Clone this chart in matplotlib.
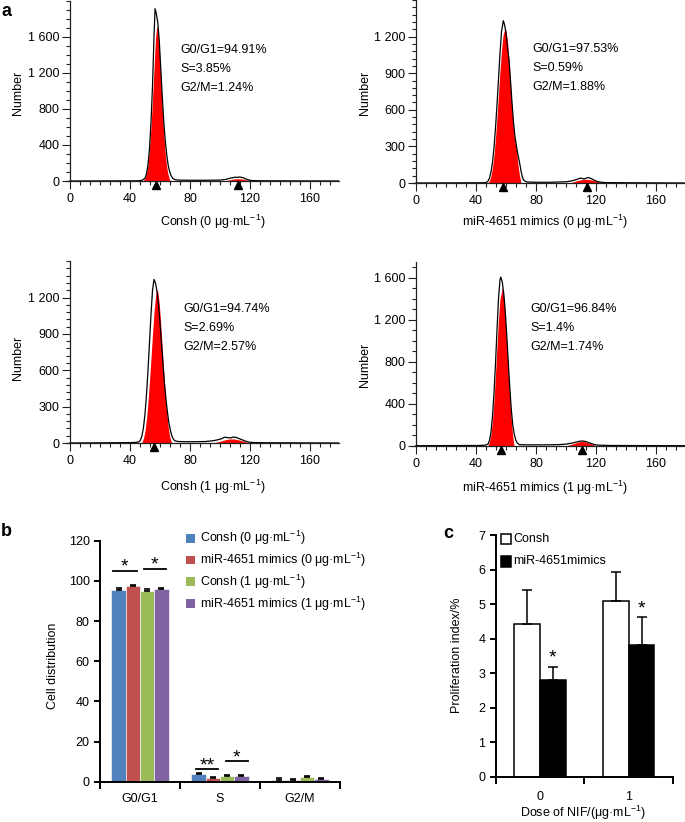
import matplotlib
matplotlib.use('Agg')
import matplotlib.pyplot as plt
from matplotlib.ticker import MultipleLocator, FixedLocator, NullFormatter
from matplotlib.patches import Rectangle
from matplotlib.transforms import offset_copy

plt.rcParams['font.family'] = ['Liberation Sans', 'DejaVu Sans']
plt.rcParams['mathtext.fontset'] = 'custom'
plt.rcParams['mathtext.rm'] = 'Liberation Sans'
plt.rcParams['mathtext.it'] = 'Liberation Sans:italic'
plt.rcParams['mathtext.bf'] = 'Liberation Sans:bold'
plt.rcParams['font.size'] = 9

# ---------------- DATA ----------------
UNIT = ' μg·mL$^{-1}$'
# Panel a : flow-cytometry histograms (channel, count)
a1_black_x = [0, 45, 48, 50, 51, 52, 53, 54, 55, 56, 56.7, 57.5, 58.5, 59.5, 60.5, 61.5, 62.5, 63.5, 64.5, 65.5, 66.5, 67.5, 68.5, 70, 72, 80, 90, 100, 104, 107, 109, 110, 112, 113, 115, 117, 119, 121, 125, 130, 179]
a1_black_y = [0, 2, 8, 30, 80, 180, 360, 650, 1050, 1600, 1910, 1860, 1760, 1560, 1250, 940, 660, 450, 290, 170, 100, 55, 30, 15, 10, 8, 8, 10, 18, 32, 38, 42, 40, 45, 38, 25, 12, 5, 3, 2, 0]
a1_g1_x = [48.5, 50, 51, 52, 53, 54, 55, 56, 57, 57.8, 58.5, 59.5, 60.5, 61.5, 62.5, 63.5, 64.5, 65.5, 66.7]
a1_g1_y = [0, 30, 80, 180, 350, 600, 900, 1250, 1580, 1714, 1680, 1460, 1150, 820, 520, 300, 150, 60, 0]
a1_g2_x = [102, 105, 108, 110, 112, 114, 116, 119, 122]
a1_g2_y = [0, 8, 18, 24, 26, 24, 18, 8, 0]

a2_black_x = [0, 45, 47, 48, 49, 50, 51, 52, 53, 54, 55, 56, 57, 58.2, 59, 60, 61, 62, 63, 64, 65, 66, 67, 68, 69, 70, 71, 72, 74, 80, 90, 100, 104, 107, 109, 110, 112, 114, 115, 117, 119, 121, 124, 128, 140, 179]
a2_black_y = [0, 2, 5, 15, 40, 90, 170, 290, 450, 640, 850, 1060, 1240, 1330, 1300, 1230, 1110, 1010, 840, 660, 500, 380, 300, 230, 170, 100, 45, 20, 8, 6, 6, 10, 18, 28, 38, 40, 32, 42, 45, 35, 22, 12, 5, 3, 2, 0]
a2_g1_x = [48, 49, 50, 51, 52, 53, 54, 55, 56, 57, 58, 59.3, 60, 61, 62, 63, 64, 65, 66, 67, 68, 69, 70]
a2_g1_y = [0, 20, 60, 130, 230, 370, 540, 730, 920, 1090, 1210, 1268, 1250, 1160, 1000, 800, 600, 430, 330, 270, 150, 60, 0]
a2_g2_x = [102, 105, 108, 111, 114, 117, 120, 123, 126]
a2_g2_y = [0, 10, 22, 28, 30, 25, 15, 6, 0]

a3_black_x = [0, 40, 44, 46, 47, 48, 49, 50, 51, 52, 53, 54, 55, 56, 57, 58, 59, 60, 61, 62, 63, 64, 65, 66, 67, 68, 69, 70, 72, 80, 90, 95, 98, 101, 103, 105, 107, 109, 111, 113, 115, 117, 119, 122, 130, 179]
a3_black_y = [0, 3, 5, 10, 25, 60, 130, 240, 400, 600, 830, 1060, 1260, 1350, 1320, 1250, 1140, 990, 820, 650, 490, 360, 250, 160, 100, 55, 30, 18, 12, 10, 12, 18, 25, 35, 48, 44, 42, 50, 45, 35, 25, 15, 8, 4, 2, 0]
a3_g1_x = [47.8, 49, 50, 51, 52, 53, 54, 55, 56, 57, 57.8, 58.5, 59.5, 60.5, 61.5, 62.5, 63.5, 64.5, 65.5, 66.5, 67.8]
a3_g1_y = [0, 40, 100, 200, 340, 510, 700, 900, 1080, 1210, 1266, 1250, 1150, 980, 780, 580, 400, 250, 130, 50, 0]
a3_g2_x = [95, 98, 101, 104, 107, 110, 113, 116, 118, 120]
a3_g2_y = [0, 8, 18, 28, 34, 32, 24, 13, 6, 0]

a4_black_x = [0, 42, 46, 48, 49, 50, 51, 52, 53, 54, 55, 56, 56.5, 57.5, 58.5, 59.5, 60.5, 61.5, 62.5, 63.5, 64.5, 65.5, 66.5, 67.5, 69, 75, 85, 95, 100, 104, 107, 109, 111, 113, 115, 117, 119, 122, 130, 179]
a4_black_y = [0, 2, 5, 15, 50, 130, 280, 500, 780, 1100, 1400, 1580, 1606, 1560, 1450, 1280, 1050, 800, 560, 350, 200, 110, 55, 25, 10, 8, 8, 10, 15, 25, 35, 42, 45, 40, 30, 20, 10, 5, 2, 0]
a4_g1_x = [48, 49, 50, 51, 52, 53, 54, 55, 56, 57.5, 58.5, 59.5, 60.5, 61.5, 62.5, 63.5, 64.5, 65.3]
a4_g1_y = [0, 40, 110, 240, 430, 680, 950, 1210, 1400, 1499, 1420, 1220, 960, 700, 460, 250, 90, 0]
a4_g2_x = [100, 103, 106, 109, 111, 113, 116, 119, 120]
a4_g2_y = [0, 10, 25, 38, 40, 36, 20, 5, 0]

a_markers = [[57, 112], [58, 114], [56], [56.5, 110.5]]
a_stats = [['G0/G1=94.91%', 'S=3.85%', 'G2/M=1.24%'],
           ['G0/G1=97.53%', 'S=0.59%', 'G2/M=1.88%'],
           ['G0/G1=94.74%', 'S=2.69%', 'G2/M=2.57%'],
           ['G0/G1=96.84%', 'S=1.4%', 'G2/M=1.74%']]
a_xlabels = ['Consh (0' + UNIT + ')', 'miR-4651 mimics (0' + UNIT + ')',
             'Consh (1' + UNIT + ')', 'miR-4651 mimics (1' + UNIT + ')']

# Panel b : cell distribution
b_categories = ['G0/G1', 'S', 'G2/M']
b_series = ['Consh (0' + UNIT + ')', 'miR-4651 mimics (0' + UNIT + ')',
            'Consh (1' + UNIT + ')', 'miR-4651 mimics (1' + UNIT + ')']
b_consh0 = [95.3, 3.85, 0.9]
b_mimic0 = [97.3, 1.8, 0.9]
b_consh1 = [95.0, 2.7, 2.2]
b_mimic1 = [95.8, 2.7, 1.5]
b_consh0_err = [1.0, 0.4, 0.8]
b_mimic0_err = [0.5, 0.3, 0.4]
b_consh1_err = [0.8, 0.6, 0.4]
b_mimic1_err = [0.8, 0.5, 0.5]
b_colors = ['#4F81BD', '#C0504D', '#9BBB59', '#8064A2']
b_sig_x0 = [-0.34, 0.05, 0.70, 1.07]
b_sig_x1 = [-0.04, 0.32, 0.97, 1.35]
b_sig_y = [105.0, 105.9, 6.2, 10.2]
b_sig_txt = ['*', '*', '**', '*']

# Panel c : proliferation index
c_doses = ['0', '1']
c_consh = [4.42, 5.09]
c_consh_err = [0.99, 0.85]
c_mimic = [2.80, 3.82]
c_mimic_err = [0.38, 0.80]

# ---------------- FIGURE ----------------
W, H = 685, 822
fig = plt.figure(figsize=(W / 100, H / 100), dpi=100)


def fx(x):
    return x / W


def fy(y):
    return 1 - y / H


def px_axes(x0, y_top, w, h):
    return fig.add_axes([x0 / W, 1 - (y_top + h) / H, w / W, h / H])


def ftext(x, y, s, **kw):
    fig.text(fx(x), fy(y), s, **kw)


def flow_panel(ox, oy, ys, ytop, ymajor, yminor, bx, by, g1x, g1y, g2x, g2y,
               markers, stats, tx, ty, xlabel, xl_xy, yl_xy):
    xs = 1.5
    xl, xr = -3, 179
    ax = px_axes(ox + xl * xs, oy - ytop * ys, (xr - xl) * xs, ytop * ys)
    ax.set_xlim(xl, xr)
    ax.set_ylim(0, ytop)
    ax.spines['left'].set_position(('data', 0))
    for s in ['top', 'right']:
        ax.spines[s].set_visible(False)
    for s in ['left', 'bottom']:
        ax.spines[s].set_linewidth(0.9)
        ax.spines[s].set_color('#222222')
    ax.fill_between(g1x, g1y, 0, color='#FF0000', lw=0, zorder=2)
    ax.fill_between(g2x, g2y, 0, color='#FF0000', lw=0, zorder=2)
    ax.plot(bx, by, color='black', lw=0.9, zorder=3)
    tr = offset_copy(ax.transData, fig=fig, x=0, y=-4.5, units='dots')
    ax.plot(markers, [0] * len(markers), ls='none', marker='^', ms=6,
            color='black', transform=tr, clip_on=False, zorder=5)
    ax.xaxis.set_major_locator(FixedLocator([0, 40, 80, 120, 160]))
    ax.xaxis.set_minor_locator(MultipleLocator(40 / 6))
    ax.yaxis.set_major_locator(FixedLocator(ymajor))
    ax.set_yticklabels([('{:,}'.format(v)).replace(',', ' ') for v in ymajor])
    ax.yaxis.set_minor_locator(MultipleLocator(yminor))
    ax.tick_params(which='major', direction='out', length=5.5, width=0.8,
                   color='#222222', labelsize=9, pad=2)
    ax.tick_params(which='minor', direction='out', length=3, width=0.8,
                   color='#222222')
    ax.tick_params(axis='x', which='major', pad=3)
    for i, s in enumerate(stats):
        ftext(tx, ty + i * 19, s, ha='left', va='center', fontsize=9)
    ftext(xl_xy[0], xl_xy[1], xlabel, ha='center', va='center', fontsize=9)
    ftext(yl_xy[0], yl_xy[1], 'Number', ha='center', va='center',
          rotation=90, fontsize=9)
    return ax


flow_panel(70, 181, 0.0902, 2000, [0, 400, 800, 1200, 1600], 100,
           a1_black_x, a1_black_y, a1_g1_x, a1_g1_y, a1_g2_x, a1_g2_y,
           a_markers[0], a_stats[0], 180, 50, a_xlabels[0], (213, 222), (18, 93))
flow_panel(416, 183, 0.122, 1500, [0, 300, 600, 900, 1200], 60,
           a2_black_x, a2_black_y, a2_g1_x, a2_g1_y, a2_g2_x, a2_g2_y,
           a_markers[1], a_stats[1], 532, 49, a_xlabels[1], (545, 222), (365, 93))
flow_panel(70, 443, 0.1212, 1500, [0, 300, 600, 900, 1200], 60,
           a3_black_x, a3_black_y, a3_g1_x, a3_g1_y, a3_g2_x, a3_g2_y,
           a_markers[2], a_stats[2], 183, 309, a_xlabels[2], (213, 487), (18, 358))
flow_panel(416, 445.7, 0.105, 1750, [0, 400, 800, 1200, 1600], 100,
           a4_black_x, a4_black_y, a4_g1_x, a4_g1_y, a4_g2_x, a4_g2_y,
           a_markers[3], a_stats[3], 530, 309, a_xlabels[3], (545, 488), (365, 365))

# ---------------- panel b ----------------
axb = px_axes(100, 540.7, 240, 241)
axb.set_xlim(-0.5, 2.5)
axb.set_ylim(0, 120)
bw = 0.179
b_vals = [b_consh0, b_mimic0, b_consh1, b_mimic1]
b_errs = [b_consh0_err, b_mimic0_err, b_consh1_err, b_mimic1_err]
for k in range(4):
    xpos = [i + (k - 1.5) * bw for i in range(3)]
    axb.bar(xpos, b_vals[k], width=bw, color=b_colors[k], edgecolor='white',
            linewidth=0.4, zorder=2)
    axb.errorbar(xpos, b_vals[k], yerr=[[0] * 3, b_errs[k]], fmt='none',
                 ecolor='black', elinewidth=1, capsize=2.2, capthick=1.2, zorder=3)
for s in ['top', 'right']:
    axb.spines[s].set_visible(False)
for s in ['left', 'bottom']:
    axb.spines[s].set_linewidth(1.4)
axb.yaxis.set_major_locator(MultipleLocator(20))
axb.xaxis.set_major_locator(FixedLocator([-0.5, 0.5, 1.5, 2.5]))
axb.xaxis.set_major_formatter(NullFormatter())
axb.xaxis.set_minor_locator(FixedLocator([0, 1, 2]))
axb.set_xticklabels(b_categories, minor=True)
axb.tick_params(axis='x', which='major', direction='out', length=5, width=1.4)
axb.tick_params(axis='x', which='minor', length=0, pad=8, labelsize=9)
axb.tick_params(axis='y', direction='out', length=4.5, width=1.4, pad=3, labelsize=9)
for x0, x1, y, t in zip(b_sig_x0, b_sig_x1, b_sig_y, b_sig_txt):
    axb.plot([x0, x1], [y, y], color='black', lw=1.3, zorder=4)
    axb.annotate(t, ((x0 + x1) / 2, y), xytext=(0, -3.5), textcoords='offset points',
                 ha='center', va='bottom', fontsize=14)
ftext(53, 666, 'Cell distribution', rotation=90, ha='center', va='center', fontsize=9)
for k in range(4):
    yc = 538.3 + k * 21.7
    fig.add_artist(Rectangle((fx(186), fy(yc + 4.3)), 8.7 / W, 8.7 / H,
                             transform=fig.transFigure, facecolor=b_colors[k],
                             edgecolor='none'))
    ftext(200, yc, b_series[k], ha='left', va='center', fontsize=9)

# ---------------- panel c ----------------
axc = px_axes(495.7, 535, 177.3, 241.7)
axc.set_xlim(-0.5, 1.5)
axc.set_ylim(0, 7)
cw = 0.29
xw = [i - cw / 2 for i in range(2)]
xk = [i + cw / 2 for i in range(2)]
axc.bar(xw, c_consh, width=cw, color='white', edgecolor='black', linewidth=1.1, zorder=2)
axc.bar(xk, c_mimic, width=cw, color='black', edgecolor='black', linewidth=1.1, zorder=2)
axc.errorbar(xw, c_consh, yerr=[[0, 0], c_consh_err], fmt='none', ecolor='black',
             elinewidth=1.1, capsize=3.8, capthick=1.1, zorder=3)
axc.errorbar(xk, c_mimic, yerr=[[0, 0], c_mimic_err], fmt='none', ecolor='black',
             elinewidth=1.1, capsize=3.8, capthick=1.1, zorder=3)
for x, v, e in zip(xk, c_mimic, c_mimic_err):
    axc.annotate('*', (x, v + e), xytext=(0, 0), textcoords='offset points',
                 ha='center', va='bottom', fontsize=14)
for s in ['top', 'right']:
    axc.spines[s].set_visible(False)
for s in ['left', 'bottom']:
    axc.spines[s].set_linewidth(1.4)
axc.yaxis.set_major_locator(MultipleLocator(1))
axc.xaxis.set_major_locator(FixedLocator([-0.5, 0.5, 1.5]))
axc.xaxis.set_major_formatter(NullFormatter())
axc.xaxis.set_minor_locator(FixedLocator([0, 1]))
axc.set_xticklabels(c_doses, minor=True)
axc.tick_params(axis='x', which='major', direction='out', length=5, width=1.4)
axc.tick_params(axis='x', which='minor', length=0, pad=10, labelsize=9)
axc.tick_params(axis='y', direction='out', length=4.5, width=1.4, pad=3, labelsize=9)
ftext(457, 655, 'Proliferation index/%', rotation=90, ha='center', va='center', fontsize=9)
ftext(583, 813, 'Dose of NIF/(μg·mL$^{-1}$)', ha='center', va='center', fontsize=9)
fig.add_artist(Rectangle((fx(500.5), fy(544)), 10.5 / W, 10.5 / H, transform=fig.transFigure,
                         facecolor='white', edgecolor='black', linewidth=1.1))
fig.add_artist(Rectangle((fx(500.5), fy(566.5)), 10.5 / W, 10.5 / H, transform=fig.transFigure,
                         facecolor='black', edgecolor='black', linewidth=1.1))
ftext(513, 538.7, 'Consh', ha='left', va='center', fontsize=9)
ftext(513, 561.3, 'miR-4651mimics', ha='left', va='center', fontsize=9)

# panel letters
ftext(7, 12, 'a', ha='center', va='center', fontsize=13, fontweight='bold')
ftext(6, 531, 'b', ha='center', va='center', fontsize=13, fontweight='bold')
ftext(448.5, 534, 'c', ha='center', va='center', fontsize=13, fontweight='bold')

fig.savefig('out.png', dpi=100)
